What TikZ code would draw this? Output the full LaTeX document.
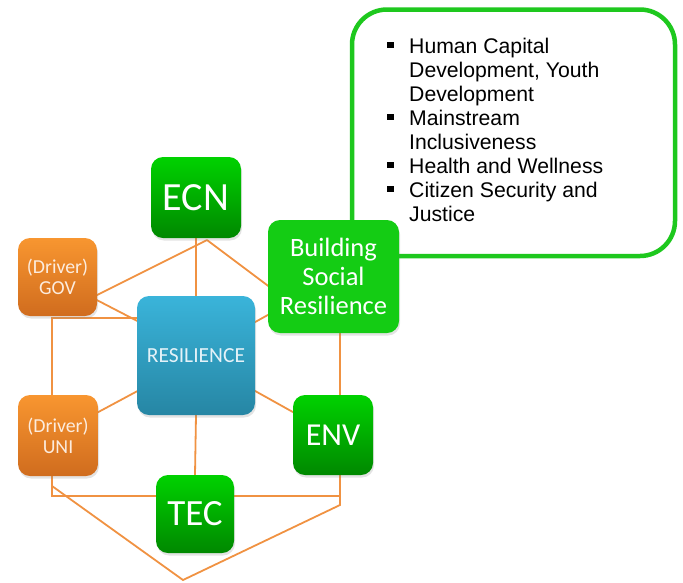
\documentclass[tikz,border=0pt]{standalone}
\usepackage{fontspec}
\setmainfont{Liberation Sans}
\newfontfamily\boxfont{Carlito}
\usetikzlibrary{shadows,backgrounds}
\definecolor{lineor}{RGB}{240,146,66}
\definecolor{grtop}{RGB}{0,210,0}
\definecolor{grbot}{RGB}{0,136,0}
\definecolor{ortop}{RGB}{248,150,48}
\definecolor{orbot}{RGB}{208,108,30}
\definecolor{bltop}{RGB}{58,180,218}
\definecolor{blbot}{RGB}{38,134,164}
\definecolor{brgreen}{RGB}{20,204,20}
\definecolor{framegreen}{RGB}{30,200,30}
\definecolor{ortext}{RGB}{252,236,222}
\definecolor{bltext}{RGB}{228,242,248}
\begin{document}
\begin{tikzpicture}[x=1pt,y=-1pt,
  box/.style={rounded corners=12pt, inner sep=0pt, align=center, text=white,
    drop shadow={opacity=0.22, shadow xshift=1pt, shadow yshift=-2.5pt}},
  greenbox/.style={box, top color=grtop, bottom color=grbot},
  orangebox/.style={box, top color=ortop, bottom color=orbot, text=ortext,
    minimum width=80pt, minimum height=80pt,
    font={\boxfont\fontsize{19.8}{21}\selectfont}},
  bluebox/.style={box, top color=bltop, bottom color=blbot, text=bltext},
  conn/.style={draw=lineor, line width=1.8pt},
  listline/.style={anchor=base west, inner sep=0pt, font={\fontsize{21.2}{24}\selectfont}},
  bulletsq/.style={fill=black}
]
\useasboundingbox (0,0) rectangle (683,582);

% note panel
\node[draw=framegreen, line width=4.5pt, rounded corners=35pt, fill=white,
  minimum width=323pt, minimum height=246.5pt, inner sep=0pt] (notes) at (513.5,132.75) {};
\node[listline] (l1) at (409,53) {Human Capital};
\node[listline] (l2) at (409,77) {Development, Youth};
\node[listline] (l3) at (409,101) {Development};
\node[listline] (l4) at (409,125) {Mainstream};
\node[listline] (l5) at (409,149) {Inclusiveness};
\node[listline] (l6) at (409,173) {Health and Wellness};
\node[listline] (l7) at (409,197) {Citizen Security and};
\node[listline] (l8) at (409,221) {Justice};
\foreach \yy in {53,125,173,197} {
  \fill[bulletsq] (387,\yy-11.5) rectangle (393.5,\yy-5);
}

% boxes
\node[greenbox, minimum width=90pt, minimum height=81pt,
  font={\boxfont\fontsize{40}{42}\selectfont}] (ECN) at (196,197.5) {ECN};
\node[orangebox, minimum width=79pt, minimum height=78pt] (GOV) at (57.5,277) {(Driver)\\GOV};
\node[bluebox, minimum width=118pt, minimum height=119pt,
  font={\boxfont\fontsize{21.5}{23}\selectfont}] (RES) at (196,355.5) {RESILIENCE};
\node[orangebox, minimum width=80pt, minimum height=81pt] (UNI) at (58,435.5) {(Driver)\\UNI};
\node[greenbox, minimum width=80pt, minimum height=80pt,
  font={\boxfont\fontsize{32}{34}\selectfont}] (ENV) at (333,435) {ENV};
\node[greenbox, minimum width=78pt, minimum height=78pt,
  font={\boxfont\fontsize{37}{39}\selectfont}] (TEC) at (195,514) {TEC};
\node[box, fill=brgreen, minimum width=131pt, minimum height=113pt,
  font={\boxfont\fontsize{26.5}{29}\selectfont}] (BSR) at (333.5,276.5) {Building\\Social\\Resilience};

% connector points
\coordinate (apex) at (207,240);
\coordinate (govR) at (90,298.5);
\coordinate (bsrL) at (275,291);
\coordinate (govR2) at (90,296.5);
\coordinate (resL) at (145,325);
\coordinate (lt) at (52,318);
\coordinate (resL2) at (145,318);
\coordinate (lb) at (52,496);
\coordinate (tecL) at (165,496);
\coordinate (ld) at (52,486);
\coordinate (bot) at (183,580);
\coordinate (rd) at (340,505);
\coordinate (rb) at (340,496);
\coordinate (tecR) at (225,496);
\coordinate (rt) at (340,325);
\coordinate (resR) at (248,326);
\coordinate (bsrL2) at (275,311);
\coordinate (resLL) at (145,387);
\coordinate (uniR) at (90,416.5);
\coordinate (resRR) at (248,387);
\coordinate (envL) at (300,416);

\begin{scope}[on background layer]
  \draw[conn] (apex) -- (govR);
  \draw[conn] (apex) -- (bsrL);
  \draw[conn] (ECN.south) -- (RES.north);
  \draw[conn] (govR2) -- (resL);
  \draw[conn] (resL2) -- (lt) -- (lb) -- (tecL);
  \draw[conn] (ld) -- (bot) -- (rd) -- (rt);
  \draw[conn] (rb) -- (tecR);
  \draw[conn] (resR) -- (bsrL2);
  \draw[conn] (resLL) -- (uniR);
  \draw[conn] (resRR) -- (envL);
  \draw[conn] (RES.south) -- (TEC.north);
\end{scope}
\end{tikzpicture}
\end{document}
